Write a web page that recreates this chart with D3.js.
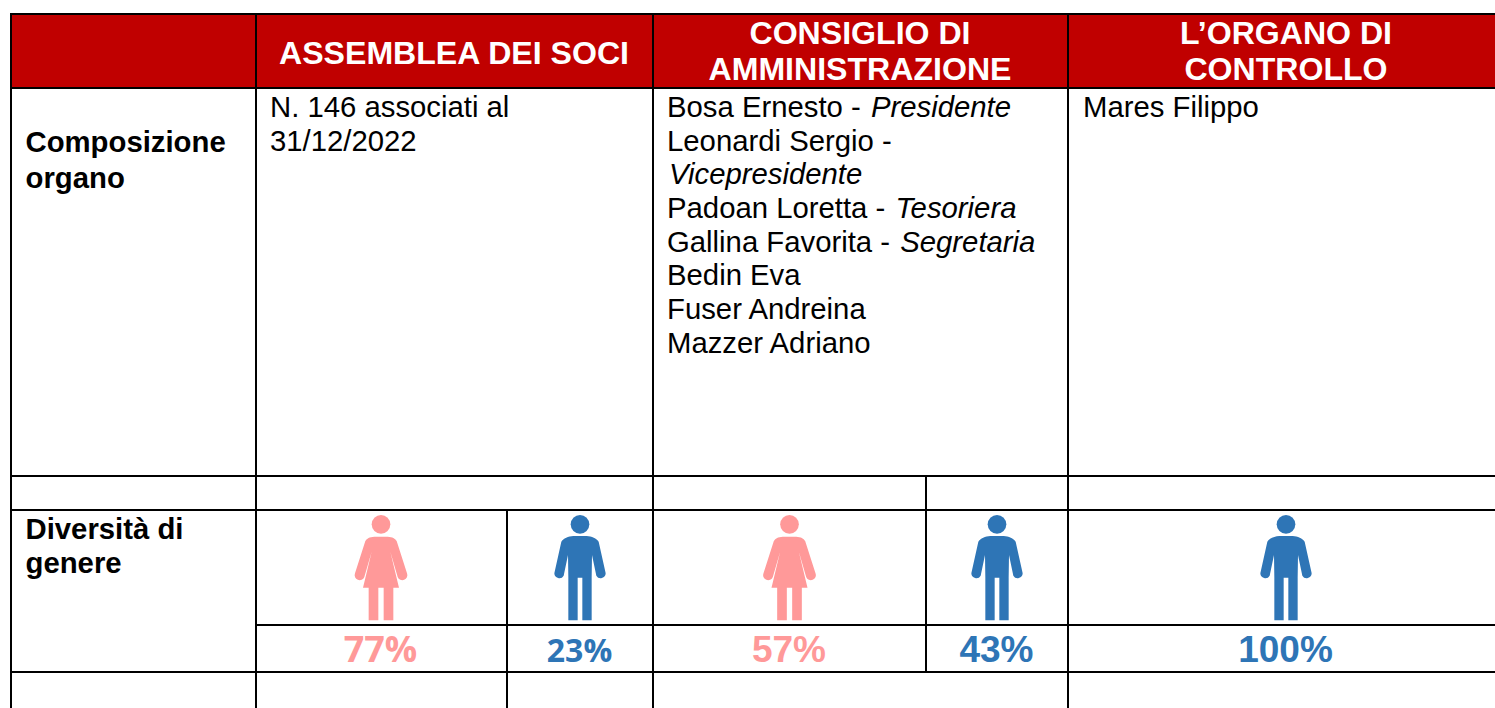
<!DOCTYPE html>
<html>
<head>
<meta charset="utf-8">
<script src="https://cdn.jsdelivr.net/npm/d3@7"></script>
<style>
html, body { margin: 0; padding: 0; background: #fff; overflow: hidden; }
svg { display: block; }
text { font-family: "Liberation Sans", Arial, sans-serif; }
</style>
</head>
<body>
<svg width="1495" height="708"></svg>
<script>
var svg = d3.select("svg");

// table content
var headers = [
    ["ASSEMBLEA DEI SOCI"],
    ["CONSIGLIO DI", "AMMINISTRAZIONE"],
    ["L\u2019ORGANO DI", "CONTROLLO"]
];
var rowTitles = [["Composizione", "organo"], ["Diversit\u00e0 di", "genere"]];
var soci = [[["N. 146 associati al", false]], [["31/12/2022", false]]];
var consiglio = [
    [["Bosa Ernesto - ", false], ["Presidente", true]],
    [["Leonardi Sergio - ", false]],
    [["Vicepresidente", true]],
    [["Padoan Loretta - ", false], ["Tesoriera", true]],
    [["Gallina Favorita - ", false], ["Segretaria", true]],
    [["Bedin Eva", false]],
    [["Fuser Andreina", false]],
    [["Mazzer Adriano", false]]
];
var controllo = [[["Mares Filippo", false]]];

// gender split per organ
var genderOrgan = ["soci-f", "soci-m", "cda-f", "cda-m", "ctrl-m"];
var genderKind = ["f", "m", "f", "m", "m"];
var genderShare = [77, 23, 57, 43, 100];

var colors = { red: "#C00000", f: "#FF9999", m: "#2E75B6" };

// grid
var x = d3.scaleOrdinal()
    .domain(["left", "c1", "c1b", "c2", "c2b", "c3", "right"])
    .range([11, 256, 507, 653, 926, 1068, 1495]);
var y = d3.scaleOrdinal()
    .domain(["top", "head", "comp", "gap", "icons", "pct", "bottom"])
    .range([14, 88, 476, 510, 625, 672, 708]);
var figX = d3.scaleOrdinal().domain(genderOrgan).range([381, 580, 789.5, 997, 1286]);

// the percent labels do not all share one font in the original
var pctSize = d3.scaleOrdinal().domain(genderOrgan).range([36, 32, 37, 37, 37]);
var pctFont = d3.scaleOrdinal().domain(genderOrgan)
    .range(["Open Sans", "Open Sans", "Liberation Sans", "Liberation Sans", "Liberation Sans"]);

svg.append("rect")
    .attr("x", x("left")).attr("y", y("top"))
    .attr("width", x("right") - x("left")).attr("height", y("head") - y("top"))
    .attr("fill", colors.red);

var hLines = [
    ["left", "right", "top"],
    ["left", "right", "head"],
    ["left", "right", "comp"],
    ["left", "right", "gap"],
    ["c1", "right", "icons"],
    ["left", "right", "pct"]
];
var vLines = [
    ["left", "top", "bottom"],
    ["c1", "top", "bottom"],
    ["c2", "top", "bottom"],
    ["c3", "top", "bottom"],
    ["c1b", "gap", "bottom"],
    ["c2b", "comp", "pct"]
];

svg.selectAll(".h").data(hLines).enter().append("line")
    .attr("x1", d => x(d[0]) - 1).attr("x2", d => x(d[1]))
    .attr("y1", d => y(d[2])).attr("y2", d => y(d[2]))
    .attr("stroke", "#000").attr("stroke-width", 2);
svg.selectAll(".v").data(vLines).enter().append("line")
    .attr("x1", d => x(d[0])).attr("x2", d => x(d[0]))
    .attr("y1", d => y(d[1]) - 1).attr("y2", d => y(d[2]))
    .attr("stroke", "#000").attr("stroke-width", 2);

// headers
function headerBlock (lines, cx, y0, dy) {
    svg.selectAll(null).data(lines).enter().append("text")
        .attr("x", cx).attr("y", (d, i) => y0 + i * dy)
        .attr("text-anchor", "middle")
        .attr("font-weight", "bold").attr("font-size", 32.1)
        .attr("fill", "#fff").text(d => d);
}
headerBlock(headers[0], 454, 64, 0);
headerBlock(headers[1], 860, 44, 36);
headerBlock(headers[2], 1286, 44, 36);

// row titles
function boldBlock (lines, y0, dy) {
    svg.selectAll(null).data(lines).enter().append("text")
        .attr("x", 25.5).attr("y", (d, i) => y0 + i * dy)
        .attr("font-weight", "bold").attr("font-size", 29.3)
        .attr("fill", "#000").text(d => d);
}
boldBlock(rowTitles[0], 152, 35.5);
boldBlock(rowTitles[1], 539, 34);

// body cells
function bodyBlock (lines, x0) {
    var t = svg.selectAll(null).data(lines).enter().append("text")
        .attr("x", x0).attr("y", (d, i) => 117 + i * 33.65)
        .attr("font-size", 29.3).attr("fill", "#000");
    t.selectAll("tspan").data(d => d).enter().append("tspan")
        .attr("font-style", d => d[1] ? "italic" : "normal")
        .attr("dx", d => d[1] ? 2 : 0)
        .style("white-space", "pre")
        .text(d => d[0]);
}
bodyBlock(soci, 270);
bodyBlock(consiglio, 667);
bodyBlock(controllo, 1083);

// pictograms, drawn around head centre
var femalePath = "M-20,37 C-35,38 -42,42 -47,50 L-78,147 A15,15 0 0 0 -50,158 L-28,82 L-54,190 L-37,190 L-37,288 L-8,288 L-8,190 L8,190 L8,288 L37,288 L37,190 L54,190 L28,82 L50,158 A15,15 0 0 0 78,147 L47,50 C42,42 35,38 20,37 Z";
var malePath = "M-20,35 C-35,36 -50,42 -56,52 L-77,147 A15,15 0 0 0 -49,154 L-36,92 L-35,160 L-35,288 L-7,288 L-7,160 L7,160 L7,288 L35,288 L35,160 L36,92 L49,154 A15,15 0 0 0 77,147 L56,52 C50,42 35,36 20,35 Z";

var fig = svg.selectAll(".fig").data(genderOrgan).enter().append("g")
    .attr("class", "fig")
    .attr("transform", d => `translate(${figX(d)},524.3) scale(${1 / 3})`)
    .attr("fill", (d, i) => colors[genderKind[i]]);
fig.append("circle").attr("r", 28);
fig.append("path").attr("d", (d, i) => genderKind[i] === "f" ? femalePath : malePath);

svg.selectAll(".pct").data(genderOrgan).enter().append("text")
    .attr("class", "pct")
    .attr("x", d => figX(d) - 0.5).attr("y", 662)
    .attr("text-anchor", "middle")
    .style("font-family", d => `'${pctFont(d)}', sans-serif`)
    .attr("font-weight", "bold").attr("font-size", d => pctSize(d))
    .attr("fill", (d, i) => colors[genderKind[i]])
    .text((d, i) => genderShare[i] + "%");
</script>
</body>
</html>
